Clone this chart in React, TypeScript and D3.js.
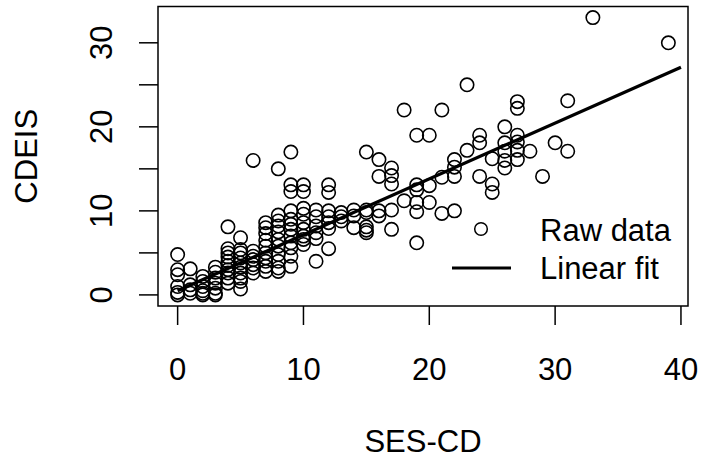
import * as d3 from "d3";
import React from "react";

// SES-CD scores and the CDEIS values observed at each score
const scores = [0, 1, 2, 3, 4, 5, 6, 7, 8, 9, 10, 11, 12, 13, 14, 15, 16, 17, 18, 19, 20, 21, 22, 23, 24, 25, 26, 27, 28, 29, 30, 31, 33, 39];
const cdeisByScore = [
  [4.8, 3.0, 2.4, 1.0, 0.3, 0],
  [3.1, 1.2, 0.6, 0.2],
  [2.2, 1.6, 1.0, 0.5, 0.2, 0],
  [3.3, 2.7, 2.0, 1.4, 0.8, 0.2, 0],
  [8.1, 5.5, 5.0, 4.5, 4.0, 3.5, 3.0, 2.6, 2.0, 1.4],
  [6.8, 5.4, 5.0, 4.4, 3.8, 3.3, 2.6, 2.0, 1.6, 0.7],
  [16, 5.2, 4.6, 4.2, 3.6, 3.2, 2.6],
  [8.6, 8.0, 7.3, 6.5, 5.8, 5.0, 4.4, 4.0, 3.4, 2.8],
  [15, 9.5, 8.8, 8.2, 7.5, 6.6, 5.8, 4.8, 4.0, 3.2, 2.8],
  [17, 13.1, 12.3, 10, 9, 8.4, 7.8, 7.0, 6.2, 5.6, 4.6, 3.4],
  [13.1, 12.3, 10.3, 9.6, 8.6, 7.8, 7.0, 6.6, 6.0],
  [10.1, 9.3, 8.2, 7.4, 6.7, 4.0],
  [13.1, 12.2, 10.0, 9.3, 8.6, 7.9, 5.5],
  [9.8, 9.3, 8.8],
  [10.1, 9.4, 8.0],
  [17, 10.1, 9.8, 8.1, 7.7, 7.4],
  [16.1, 14.1, 10.0, 9.4],
  [15.1, 14.2, 13.2, 10.1, 7.8],
  [22, 11.2],
  [19, 13.1, 12.5, 11.0, 9.9, 6.2],
  [19, 13, 11],
  [22, 14, 9.7],
  [16.1, 15.2, 14.1, 10],
  [25, 17.2],
  [19, 18.1, 14.1],
  [16.2, 13.2, 12.2],
  [20, 18.1, 17.1, 16.0, 15.1],
  [23, 22.2, 19.0, 18.2, 17.2, 16.1],
  [17.1],
  [14.1],
  [18.1],
  [23.1, 17.1],
  [33],
  [30],
];

// intercept, slope of the fitted line and the x span it is drawn over
const fitCoef = [0.5, 0.665];
const fitSpan = [0, 40];

const xTicks = [0, 10, 20, 30, 40];
const yTicks = [0, 5, 10, 15, 20, 25, 30];
const yTickLabels = [0, 10, 20, 30];
const legendItems = ["Raw data", "Linear fit"];

const W = 704;
const H = 465;
const plot = {left: 158, right: 688, top: 6.5, bottom: 306};
const font = "'Liberation Sans', Arial, sans-serif";
const fs = 31;

// R style axis range: data range stretched by 4% each side
function rRange(ext: [number, number]): [number, number] {
  const pad = (ext[1] - ext[0]) * 0.04;
  return [ext[0] - pad, ext[1] + pad];
}

export default function App() {
  const points = scores.flatMap((s, i) => cdeisByScore[i].map(v => ({x: s, y: v})));

  const x = d3.scaleLinear()
    .domain(rRange(d3.extent(points, d => d.x) as [number, number]))
    .range([plot.left, plot.right]);
  const y = d3.scaleLinear()
    .domain(rRange(d3.extent(points, d => d.y) as [number, number]))
    .range([plot.bottom, plot.top]);

  const line = d3.line<number>()
    .x(d => x(d))
    .y(d => y(fitCoef[0] + fitCoef[1] * d));

  const tick = 19;

  return (
    <svg width={W} height={H} style={{position: "absolute", left: 0, top: 0, background: "#fff"}}
      fontFamily={font} fontSize={fs}>
      <rect x={0} y={0} width={W} height={H} fill="#fff" />
      {points.map((p, i) => (
        <circle key={i} cx={x(p.x)} cy={y(p.y)} r={6.7} fill="none" stroke="#000" strokeWidth={1.6} />
      ))}
      <path d={line(fitSpan) || ""} fill="none" stroke="#000" strokeWidth={3.2} />

      <rect x={plot.left} y={plot.top} width={plot.right - plot.left} height={plot.bottom - plot.top}
        fill="none" stroke="#000" strokeWidth={1.5} />

      {xTicks.map(t => (
        <g key={"x" + t}>
          <line x1={x(t)} x2={x(t)} y1={plot.bottom} y2={plot.bottom + tick} stroke="#000" strokeWidth={1.5} />
          <text x={x(t)} y={380} textAnchor="middle">{t}</text>
        </g>
      ))}
      {yTicks.map(t => (
        <line key={"y" + t} x1={plot.left - tick} x2={plot.left} y1={y(t)} y2={y(t)} stroke="#000" strokeWidth={1.5} />
      ))}
      {yTickLabels.map(t => (
        <text key={"yl" + t} transform={`translate(112,${y(t)}) rotate(-90)`} textAnchor="middle">{t}</text>
      ))}

      <text x={(plot.left + plot.right) / 2} y={452} textAnchor="middle">SES-CD</text>
      <text transform={`translate(37,${(plot.top + plot.bottom) / 2}) rotate(-90)`} textAnchor="middle">CDEIS</text>

      <g>
        <circle cx={481} cy={229} r={6.3} fill="none" stroke="#000" strokeWidth={1.5} />
        <text x={540} y={241}>{legendItems[0]}</text>
        <line x1={452} x2={511} y1={268} y2={268} stroke="#000" strokeWidth={3.2} />
        <text x={540} y={279}>{legendItems[1]}</text>
      </g>
    </svg>
  );
}
